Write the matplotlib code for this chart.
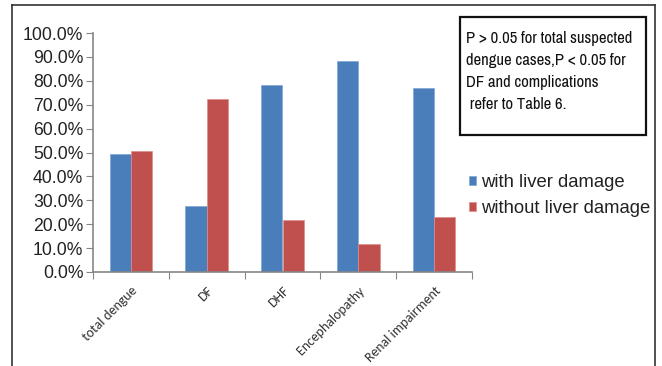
import matplotlib
matplotlib.use("Agg")
import matplotlib.pyplot as plt
from matplotlib.patches import Rectangle
from matplotlib.lines import Line2D
from matplotlib.ticker import PercentFormatter
import numpy as np

categories = ["total dengue", "DF", "DHF", "Encephalopathy", "Renal impairment"]
with_liver = [49.5, 27.7, 78.1, 88.2, 77.0]
without_liver = [50.5, 72.3, 21.9, 11.8, 23.0]
series_names = ["with liver damage", "without liver damage"]
note = "P > 0.05 for total suspected\ndengue cases,P < 0.05 for\nDF and complications\n refer to Table 6."

blue = "#4A7EBB"
red = "#C0504D"
W, H = 662, 366

fig = plt.figure(figsize=(W / 100, H / 100), dpi=100)
ax = fig.add_axes([93 / W, 1 - 272 / H, (472 - 93) / W, (272 - 33) / H])

x = np.arange(len(categories))
bw = 0.28
b1 = ax.bar(x - bw / 2, with_liver, bw, color=blue, edgecolor="#7fa6d6", linewidth=0.5,
            label=series_names[0])
b2 = ax.bar(x + bw / 2, without_liver, bw, color=red, edgecolor="#e08c8a", linewidth=0.5,
            label=series_names[1])

ax.set_xlim(-0.5, len(categories) - 0.5)
ax.set_ylim(0, 100)
ax.set_yticks(np.arange(0, 101, 10))
ax.yaxis.set_major_formatter(PercentFormatter(decimals=1))
ax.tick_params(axis="y", labelsize=12.7, length=5, color="#868686", labelcolor="#222222", pad=2)
for lab in ax.get_yticklabels():
    lab.set_fontfamily("Liberation Sans")

# category labels at centres, ticks at boundaries
ax.set_xticks(np.arange(-0.5, len(categories), 1.0))
ax.set_xticklabels([])
ax.tick_params(axis="x", length=5, color="#868686")
ax.set_xticks(x, minor=True)
ax.set_xticklabels(categories, minor=True, rotation=45, ha="right", rotation_mode="anchor",
                   fontsize=9.9, color="#333333", fontfamily="Carlito")
ax.tick_params(axis="x", which="minor", length=0, pad=9)

for s in ["top", "right"]:
    ax.spines[s].set_visible(False)
for s in ["left", "bottom"]:
    ax.spines[s].set_color("#868686")
    ax.spines[s].set_linewidth(1.2)

# outer frame (bottom cut off)
fc = "#333333"
fig.add_artist(Line2D([12 / W, 12 / W], [0, 1 - 5 / H], transform=fig.transFigure, color=fc, lw=1.2))
fig.add_artist(Line2D([12 / W, 655 / W], [1 - 5 / H, 1 - 5 / H], transform=fig.transFigure, color=fc, lw=1.2))
fig.add_artist(Line2D([655 / W, 655 / W], [0, 1 - 5 / H], transform=fig.transFigure, color=fc, lw=1.2))

# note box
fig.add_artist(Rectangle((460 / W, 1 - 135 / H), (646 - 460) / W, (135 - 17) / H,
                         transform=fig.transFigure, fill=False, edgecolor="#111111", lw=1.6))
fig.text(466 / W, 1 - 31 / H, note, ha="left", va="top", fontsize=12, linespacing=1.58,
         color="#111111", family=["Archivo Narrow", "DejaVu Sans"])

leg = fig.legend(handles=[b1, b2], loc="upper left", bbox_to_anchor=(469 / W, 1 - 174 / H),
                 frameon=False, handlelength=0.4, handleheight=0.4,
                 handletextpad=0.25, labelspacing=0.5, borderpad=0, borderaxespad=0,
                 prop={"family": "Liberation Sans", "size": 13.3})
for t in leg.get_texts():
    t.set_color("#222222")

fig.savefig("out.png", dpi=100)
